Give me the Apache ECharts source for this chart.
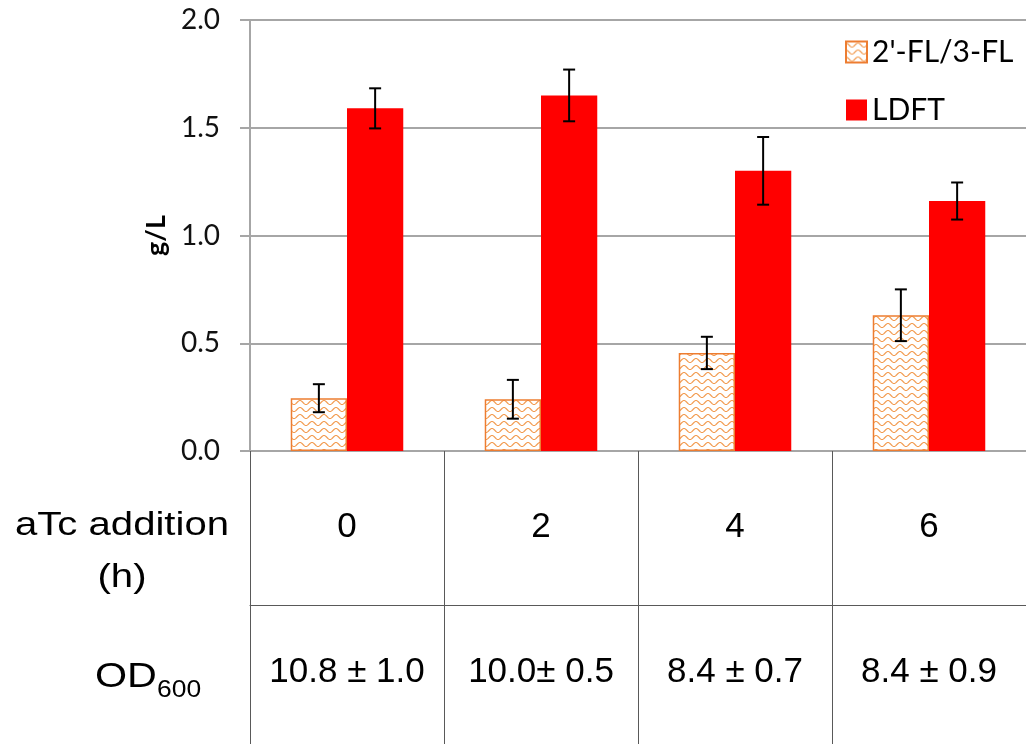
<!DOCTYPE html>
<html>
<head>
<meta charset="utf-8">
<title>LDFT and 2'-FL/3-FL titers</title>
<script src="https://cdn.jsdelivr.net/npm/echarts@6/dist/echarts.min.js"></script>
<style>
  html, body { margin: 0; padding: 0; background: #fff; }
  #chart { width: 1026px; height: 744px; }
</style>
</head>
<body>
<div id="chart"></div>
<script>
// aTc addition time (h)
const categories = ['0', '2', '4', '6'];
// 2'-FL/3-FL titer (g/L) and standard deviation
const flValues = [0.245, 0.24, 0.455, 0.63];
const flErrors = [0.065, 0.09, 0.075, 0.12];
// LDFT titer (g/L) and standard deviation
const ldftValues = [1.59, 1.65, 1.30, 1.16];
const ldftErrors = [0.093, 0.12, 0.157, 0.086];
// final OD600 for each induction time
const odLabels = ['10.8 ± 1.0', '10.0± 0.5', '8.4 ± 0.7', '8.4 ± 0.9'];
// y-axis scale
const yMin = 0, yMax = 2, yStep = 0.5;

const seriesNames = ["2'-FL/3-FL", 'LDFT'];
const CAT_GAP = 0.42;
const ORANGE = '#ED7D31';
const GRID_GRAY = '#a6a6a6';
const TABLE_LINE = '#595959';

// orange wavy fill used for the 2'-FL/3-FL bars
function wavePattern() {
  const c = document.createElement('canvas');
  c.width = 12; c.height = 7;
  const g = c.getContext('2d');
  g.fillStyle = '#ffffff';
  g.fillRect(0, 0, 12, 7);
  g.strokeStyle = '#F29A4E';
  g.lineWidth = 1.1;
  g.beginPath();
  for (let x = 0; x <= 12; x += 0.5) {
    const y = 3.5 - 2 * Math.cos(2 * Math.PI * x / 12);
    if (x === 0) g.moveTo(x, y); else g.lineTo(x, y);
  }
  g.stroke();
  return c;
}

// error bars drawn over the bar of the given side (-1 left bar, +1 right bar)
function errorSeries(values, errors, side) {
  return {
    type: 'custom',
    silent: true,
    z: 10,
    data: values.map((v, i) => [i, v, errors[i]]),
    renderItem: function (params, api) {
      const i = api.value(0), v = api.value(1), e = api.value(2);
      const band = api.size([1, 0])[0];
      const bw = band * (1 - CAT_GAP) / 2;
      const top = api.coord([i, v + e]);
      const bot = api.coord([i, v - e]);
      const x = top[0] + side * bw / 2;
      const cap = 6;
      const st = { stroke: '#000', lineWidth: 2 };
      return {
        type: 'group',
        children: [
          { type: 'line', shape: { x1: x, y1: top[1], x2: x, y2: bot[1] }, style: st },
          { type: 'line', shape: { x1: x - cap, y1: top[1], x2: x + cap, y2: top[1] }, style: st },
          { type: 'line', shape: { x1: x - cap, y1: bot[1], x2: x + cap, y2: bot[1] }, style: st }
        ]
      };
    }
  };
}

const chart = echarts.init(document.getElementById('chart'), null, { renderer: 'canvas' });

const option = {
  backgroundColor: '#ffffff',
  animation: false,
  grid: {
    left: 250, right: 0, top: 20, bottom: 293,
    containLabel: false,
    outerBoundsMode: 'none'
  },
  legend: {
    orient: 'vertical',
    left: 840,
    top: 32,
    itemWidth: 21,
    itemHeight: 21,
    itemGap: 28,
    icon: 'rect',
    data: seriesNames,
    textStyle: { fontFamily: 'Lato', fontSize: 30, color: '#000' }
  },
  xAxis: [
    {
      type: 'category',
      data: categories,
      position: 'bottom',
      boundaryGap: true,
      axisLine: { show: true, lineStyle: { color: GRID_GRAY, width: 2 } },
      axisTick: { show: true, inside: false, interval: 0, length: 293, alignWithLabel: false, lineStyle: { color: TABLE_LINE, width: 1 } },
      axisLabel: { interval: 0, hideOverlap: false, margin: 59, fontFamily: 'Liberation Sans', fontSize: 35, color: '#000' },
      splitLine: { show: false }
    },
    {
      type: 'category',
      data: odLabels,
      position: 'bottom',
      offset: 154,
      boundaryGap: true,
      axisLine: { show: true, lineStyle: { color: TABLE_LINE, width: 1 } },
      axisTick: { show: false },
      axisLabel: { interval: 0, hideOverlap: false, margin: 50, fontFamily: 'Liberation Sans', fontSize: 35, color: '#000' },
      splitLine: { show: false }
    }
  ],
  yAxis: {
    type: 'value',
    min: yMin, max: yMax, interval: yStep,
    name: 'g/L',
    nameLocation: 'middle',
    nameGap: 80,
    nameRotate: 90,
    nameTextStyle: { fontFamily: 'Lato', fontWeight: 'bold', fontSize: 27, color: '#000' },
    axisLine: { show: true, lineStyle: { color: GRID_GRAY, width: 2 } },
    axisTick: { show: true, inside: false, length: 10, lineStyle: { color: GRID_GRAY, width: 2 } },
    axisLabel: {
      margin: 30,
      fontFamily: 'Lato', fontSize: 28, color: '#111',
      formatter: v => v.toFixed(1)
    },
    splitLine: { show: true, lineStyle: { color: GRID_GRAY, width: 2 } }
  },
  series: [
    {
      name: seriesNames[0],
      type: 'bar',
      data: flValues,
      barGap: '0%',
      barCategoryGap: (CAT_GAP * 100) + '%',
      itemStyle: {
        color: { image: wavePattern(), repeat: 'repeat' },
        borderColor: ORANGE,
        borderWidth: 1.5
      }
    },
    {
      name: seriesNames[1],
      type: 'bar',
      data: ldftValues,
      barGap: '0%',
      barCategoryGap: (CAT_GAP * 100) + '%',
      itemStyle: { color: '#FF0000' }
    },
    errorSeries(flValues, flErrors, -1),
    errorSeries(ldftValues, ldftErrors, 1)
  ],
  graphic: [
    {
      type: 'text',
      x: 122, y: 552,
      scaleX: 1.18,
      style: {
        text: 'aTc addition\n(h)',
        fontFamily: 'Liberation Sans', fontSize: 34, lineHeight: 52,
        fill: '#000', align: 'center', verticalAlign: 'middle'
      }
    },
    {
      type: 'text',
      x: 95, y: 677,
      scaleX: 1.18,
      style: {
        text: 'OD',
        fontFamily: 'Liberation Sans', fontSize: 35,
        fill: '#000', align: 'left', verticalAlign: 'middle'
      }
    },
    {
      type: 'text',
      x: 157, y: 691,
      scaleX: 1.15,
      style: {
        text: '600',
        fontFamily: 'Liberation Sans', fontSize: 23,
        fill: '#000', align: 'left', verticalAlign: 'middle'
      }
    }
  ]
};

chart.setOption(option);
</script>
</body>
</html>
